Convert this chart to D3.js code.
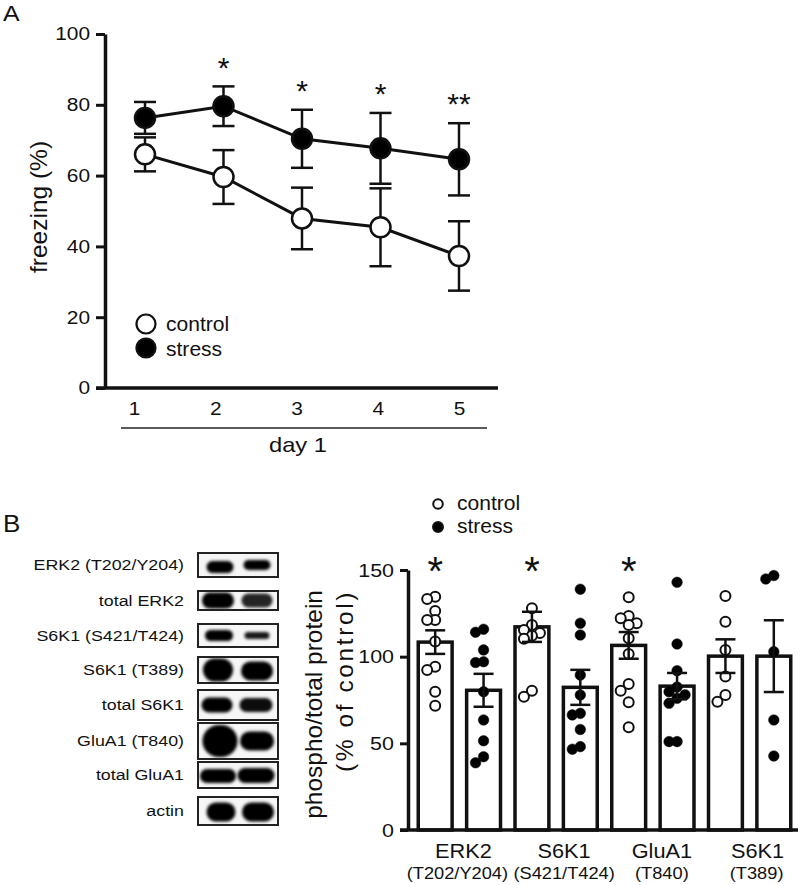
<!DOCTYPE html>
<html>
<head>
<meta charset="utf-8">
<script src="https://cdn.jsdelivr.net/npm/d3@7/dist/d3.min.js"></script>
<style>
  html, body { margin: 0; padding: 0; background: #fff; }
  svg { display: block; }
  text { font-family: "Liberation Sans", Arial, Helvetica, sans-serif; fill: #111; }
</style>
</head>
<body>
<svg id="chart" width="800" height="885"></svg>
<script>
// ---------------- Panel A data ----------------
const days = [1, 2, 3, 4, 5];
const controlMean = [66, 59.6, 47.9, 45.4, 37.3];
const controlSem = [4.8, 7.6, 8.7, 11, 9.8];
const stressMean = [76.3, 79.6, 70.4, 67.7, 64.6];
const stressSem = [4.5, 5.6, 8.2, 10, 10.2];
const sigA = ["", "*", "*", "*", "**"];
const yTicksA = [0, 20, 40, 60, 80, 100];
const xLabelA = "day 1";
const yLabelA = "freezing (%)";
const legendLabels = ["control", "stress"];

// ---------------- Panel B data ----------------
const targets = ["ERK2", "S6K1", "GluA1", "S6K1"];
const sites = ["(T202/Y204)", "(S421/T424)", "(T840)", "(T389)"];
const controlBarMean = [108.4, 117.2, 106.5, 100.3];
const controlBarSem = [6.8, 8.7, 7.7, 9.7];
const stressBarMean = [80.6, 82.3, 83, 100.3];
const stressBarSem = [9.5, 10.1, 7.6, 20.7];
const controlDots = [
  [134.6, 133.3, 126.4, 121.2, 121.2, 108.7, 94.2, 92.3, 79.8, 71.7],
  [127.9, 118.3, 115.4, 113.7, 112, 110.3, 80.4, 76.9],
  [134.3, 123.5, 122.2, 119.3, 118.3, 110.6, 101.6, 84.2, 80.4, 73.7, 59.3],
  [135, 120.2, 103.9, 88.5, 77.9, 74]
];
const stressDots = [
  [115.8, 114.1, 103.9, 97.1, 96.6, 79.8, 63.5, 51.5, 42.3, 38.8],
  [138.9, 119.3, 112.5, 89.4, 77.9, 67.3, 66.4, 58, 48.1, 46.6],
  [142.9, 107.3, 91.9, 82.5, 79.8, 78, 76, 73.1, 51, 51],
  [146.8, 144.8, 102.9, 63.5, 42.7]
];
const sigB = ["*", "*", "*", ""];
const yTicksB = [0, 50, 100, 150];
const yLabelB = ["phospho/total protein", "(% of control)"];
const blotLabels = ["ERK2 (T202/Y204)", "total ERK2", "S6K1 (S421/T424)", "S6K1 (T389)",
                    "total S6K1", "GluA1 (T840)", "total GluA1", "actin"];

// ---------------- helpers ----------------
const svg = d3.select("#chart");
const FONT = '"Liberation Sans", Arial, Helvetica, sans-serif';
function stretch(sel, k) {
  sel.each(function () {
    const t = d3.select(this);
    const x = +(t.attr("x") || 0);
    t.attr("transform", `translate(${x},0) scale(${k},1) translate(${-x},0)`);
  });
}
const SX = 1.13;

const defs = svg.append("defs");
defs.append("filter").attr("id", "blur").attr("x", "-30%").attr("y", "-60%")
  .attr("width", "160%").attr("height", "220%")
  .append("feGaussianBlur").attr("stdDeviation", 1.5);

// =============== PANEL A ===============
const gA = svg.append("g");
const xA = d3.scaleLinear().domain([1, 5]).range([145, 459]);
const xLabA = d3.scaleLinear().domain([1, 5]).range([134, 459]);
const yA = d3.scaleLinear().domain([0, 100]).range([388, 34]);

stretch(gA.append("text").attr("x", 3).attr("y", 21).attr("font-size", 22).text("A"), SX);

// y axis
const yAxA = gA.append("g").attr("transform", `translate(${xA.range()[0] - 40},0)`)
  .call(d3.axisLeft(yA).tickValues(yTicksA).tickSize(9).tickSizeOuter(0).tickPadding(6));
yAxA.select(".domain").attr("stroke", "#111").attr("stroke-width", 3.5);
yAxA.selectAll(".tick line").attr("stroke", "#111").attr("stroke-width", 3);
yAxA.selectAll(".tick text").attr("font-size", 18.5).attr("font-family", FONT).attr("fill", "#111")
  .call(stretch, SX);

// x axis line
gA.append("line").attr("x1", xA.range()[0] - 49).attr("x2", xA.range()[1] + 39)
  .attr("y1", yA(0)).attr("y2", yA(0)).attr("stroke", "#111").attr("stroke-width", 3.5);

// x tick labels
const xAxA = gA.append("g").attr("transform", `translate(0,${yA(0) + 14})`)
  .call(d3.axisBottom(xLabA).tickValues(days).tickFormat(d3.format("d")).tickSize(0).tickPadding(0));
xAxA.select(".domain").remove();
xAxA.selectAll(".tick text").attr("font-size", 18.5).attr("font-family", FONT).attr("fill", "#111")
  .attr("dy", "0.71em").call(stretch, SX);

// underline + day label
gA.append("line").attr("x1", 121).attr("x2", 487).attr("y1", 428).attr("y2", 428)
  .attr("stroke", "#222").attr("stroke-width", 1.5);
stretch(gA.append("text").attr("x", 298).attr("y", 452).attr("text-anchor", "middle")
  .attr("font-size", 21).text(xLabelA), SX);

// y label
gA.append("text").attr("transform", `translate(47,${(yA(0) + yA(100)) / 2 - 4}) rotate(-90)`)
  .attr("text-anchor", "middle").attr("font-size", 24.5).text(yLabelA);

const series = [
  { name: "stress", mean: stressMean, sem: stressSem, fill: "#000" },
  { name: "control", mean: controlMean, sem: controlSem, fill: "#fff" }
];

// error bars
series.forEach(s => {
  const g = gA.append("g").attr("stroke", "#111").attr("stroke-width", 2.5);
  days.forEach((d, i) => {
    const x = xA(d), hi = yA(s.mean[i] + s.sem[i]), lo = yA(s.mean[i] - s.sem[i]);
    g.append("line").attr("x1", x).attr("x2", x).attr("y1", hi).attr("y2", lo);
    g.append("line").attr("x1", x - 11).attr("x2", x + 11).attr("y1", hi).attr("y2", hi);
    g.append("line").attr("x1", x - 11).attr("x2", x + 11).attr("y1", lo).attr("y2", lo);
  });
});
// lines
const lineGen = d3.line().x((d, i) => xA(days[i])).y(d => yA(d));
series.forEach(s => {
  gA.append("path").attr("d", lineGen(s.mean)).attr("fill", "none")
    .attr("stroke", "#111").attr("stroke-width", 3);
});
// points
series.forEach(s => {
  gA.append("g").selectAll("circle").data(s.mean).join("circle")
    .attr("cx", (d, i) => xA(days[i])).attr("cy", d => yA(d)).attr("r", 10)
    .attr("fill", s.fill).attr("stroke", "#111").attr("stroke-width", 2.5);
});
// significance stars
gA.append("g").selectAll("text").data(sigA).join("text")
  .attr("x", (d, i) => xA(days[i]))
  .attr("y", (d, i) => yA(stressMean[i] + stressSem[i] + 7) + 16)
  .attr("text-anchor", "middle").attr("font-size", 30).text(d => d)
  .each(function () { stretch(d3.select(this), 1.0); });

// legend A
const legA = gA.append("g");
legendLabels.forEach((lab, i) => {
  legA.append("circle").attr("cx", 146).attr("cy", 324 + i * 24).attr("r", 9.5)
    .attr("fill", i === 0 ? "#fff" : "#000").attr("stroke", "#111").attr("stroke-width", 2.2);
  stretch(legA.append("text").attr("x", 166).attr("y", 331 + i * 25).attr("font-size", 19.5).text(lab), 1.08);
});

// =============== PANEL B: blots ===============
const gBl = svg.append("g");
stretch(gBl.append("text").attr("x", 3).attr("y", 532).attr("font-size", 23).text("B"), SX);

const blotLayout = [
  { y: 553, h: 24, b: [[220, 567, 27, 12, 1], [257, 565, 27, 10, 1]] },
  { y: 591, h: 19, b: [[218, 600.5, 32, 16, 1], [257, 600.5, 31, 14, 0.85]] },
  { y: 624, h: 23, b: [[219, 635.5, 28, 11, 1], [257, 635.5, 25, 7, 0.9]] },
  { y: 657, h: 26, b: [[218, 670, 30, 23, 1], [257, 671, 32, 19, 1]] },
  { y: 690, h: 30, b: [[217, 705, 31, 15, 1], [256, 705, 33, 14, 0.95]] },
  { y: 723, h: 36, b: [[220, 741, 35, 32, 1], [257, 741, 34, 19, 1]] },
  { y: 762, h: 26, b: [[218, 776, 36, 14, 1], [256, 775.5, 37, 15, 1]] },
  { y: 797, h: 28, b: [[221, 812, 29, 19, 1], [258, 812, 32, 19, 1]] }
];
blotLabels.forEach((lab, i) => {
  const L = blotLayout[i];
  const row = gBl.append("g");
  const clipId = "clip" + i;
  defs.append("clipPath").attr("id", clipId).append("rect")
    .attr("x", 198).attr("y", L.y).attr("width", 80).attr("height", L.h);
  row.append("rect").attr("x", 198).attr("y", L.y).attr("width", 80).attr("height", L.h)
    .attr("fill", "#f6f6f6");
  const bands = row.append("g").attr("clip-path", `url(#${clipId})`);
  L.b.forEach(b => {
    bands.append("rect").attr("x", b[0] - b[2] / 2).attr("y", b[1] - b[3] / 2)
      .attr("width", b[2]).attr("height", b[3]).attr("rx", Math.min(b[2], b[3]) / 2)
      .attr("fill", "#000").attr("opacity", b[4]).attr("filter", "url(#blur)");
  });
  row.append("rect").attr("x", 198).attr("y", L.y).attr("width", 80).attr("height", L.h)
    .attr("fill", "none").attr("stroke", "#222").attr("stroke-width", 2);
  stretch(row.append("text").attr("x", 184).attr("y", L.y + L.h / 2).attr("dy", "0.35em")
    .attr("text-anchor", "end").attr("font-size", 15.5).text(lab), 1.15);
});

// =============== PANEL B: bar chart ===============
const gB = svg.append("g");
const barKeys = [];
targets.forEach((t, i) => { barKeys.push(i + "c"); barKeys.push(i + "s"); });
const xB = d3.scaleBand().domain(barKeys).range([411, 798]).paddingInner(0.3).paddingOuter(0.15);
const yB = d3.scaleLinear().domain([0, 150]).range([830, 570]);

const bars = [];
targets.forEach((t, i) => {
  bars.push({ key: i + "c", mean: controlBarMean[i], sem: controlBarSem[i], dots: controlDots[i], open: true });
  bars.push({ key: i + "s", mean: stressBarMean[i], sem: stressBarSem[i], dots: stressDots[i], open: false });
});

// bars
gB.append("g").selectAll("rect").data(bars).join("rect")
  .attr("x", d => xB(d.key)).attr("y", d => yB(d.mean))
  .attr("width", xB.bandwidth()).attr("height", d => yB(0) - yB(d.mean))
  .attr("fill", "#fff").attr("stroke", "#111").attr("stroke-width", 3.5);

// dots with simple dodge
const R = 5;
bars.forEach(b => {
  const cx = xB(b.key) + xB.bandwidth() / 2;
  const placed = [];
  const sorted = b.dots.slice().sort((a, c) => c - a);
  const cands = [0, -8, 8, -13, 13];
  sorted.forEach(v => {
    const y = yB(v);
    let off = 0;
    for (const o of cands) {
      if (placed.every(p => Math.hypot(p.x - o, p.y - y) >= 8)) { off = o; break; }
    }
    placed.push({ x: off, y });
  });
  gB.append("g").selectAll("circle").data(placed).join("circle")
    .attr("cx", d => cx + d.x).attr("cy", d => d.y).attr("r", b.open ? 5 : 5.3)
    .attr("fill", b.open ? "#fff" : "#000").attr("stroke", "#111").attr("stroke-width", b.open ? 2 : 0.5);
});

// error bars
const eg = gB.append("g").attr("stroke", "#111").attr("stroke-width", 2.5);
bars.forEach(b => {
  const cx = xB(b.key) + xB.bandwidth() / 2;
  const hi = yB(b.mean + b.sem), lo = yB(b.mean - b.sem);
  eg.append("line").attr("x1", cx).attr("x2", cx).attr("y1", hi).attr("y2", lo);
  eg.append("line").attr("x1", cx - 10).attr("x2", cx + 10).attr("y1", hi).attr("y2", hi);
  eg.append("line").attr("x1", cx - 10).attr("x2", cx + 10).attr("y1", lo).attr("y2", lo);
});

// axes
const yAxB = gB.append("g").attr("transform", "translate(408,0)")
  .call(d3.axisLeft(yB).tickValues(yTicksB).tickSize(8).tickSizeOuter(0).tickPadding(6));
yAxB.select(".domain").attr("stroke", "#111").attr("stroke-width", 3.5);
yAxB.selectAll(".tick line").attr("stroke", "#111").attr("stroke-width", 3);
yAxB.selectAll(".tick text").attr("font-size", 19).attr("font-family", FONT).attr("fill", "#111")
  .call(stretch, SX);
gB.append("line").attr("x1", 400).attr("x2", 798).attr("y1", yB(0)).attr("y2", yB(0))
  .attr("stroke", "#111").attr("stroke-width", 3.5);

// group labels
const mainOff = [4, 8, 9, 8], subOff = [-2, 8, 9, 7];
targets.forEach((t, i) => {
  const gc = (xB(i + "c") + xB(i + "s") + xB.bandwidth()) / 2;
  stretch(gB.append("text").attr("x", gc + mainOff[i]).attr("y", 858).attr("text-anchor", "middle")
    .attr("font-size", 20.5).text(t), 1.06);
  stretch(gB.append("text").attr("x", gc + subOff[i]).attr("y", 879).attr("text-anchor", "middle")
    .attr("font-size", 16).text(sites[i]), 1.14);
});

// significance stars B
sigB.forEach((s, i) => {
  if (!s) return;
  const cx = xB(i + "c") + xB.bandwidth() / 2;
  gB.append("text").attr("x", cx).attr("y", yB(154) + 22).attr("text-anchor", "middle")
    .attr("font-size", 40).text(s);
});

// y label B
yLabelB.forEach((lab, i) => {
  gB.append("text").attr("transform", `translate(${322 + i * 31},590) rotate(-90)`)
    .attr("text-anchor", "end").attr("font-size", 24.5)
    .attr("letter-spacing", i === 1 ? 2.6 : 0).text(lab);
});

// legend B
legendLabels.forEach((lab, i) => {
  gB.append("circle").attr("cx", 438).attr("cy", 504 + i * 23).attr("r", i === 0 ? 4.8 : 5)
    .attr("fill", i === 0 ? "#fff" : "#000").attr("stroke", "#111").attr("stroke-width", 2);
  stretch(gB.append("text").attr("x", 457).attr("y", 510.5 + i * 22.5).attr("font-size", 19.5).text(lab), 1.08);
});
</script>
</body>
</html>
